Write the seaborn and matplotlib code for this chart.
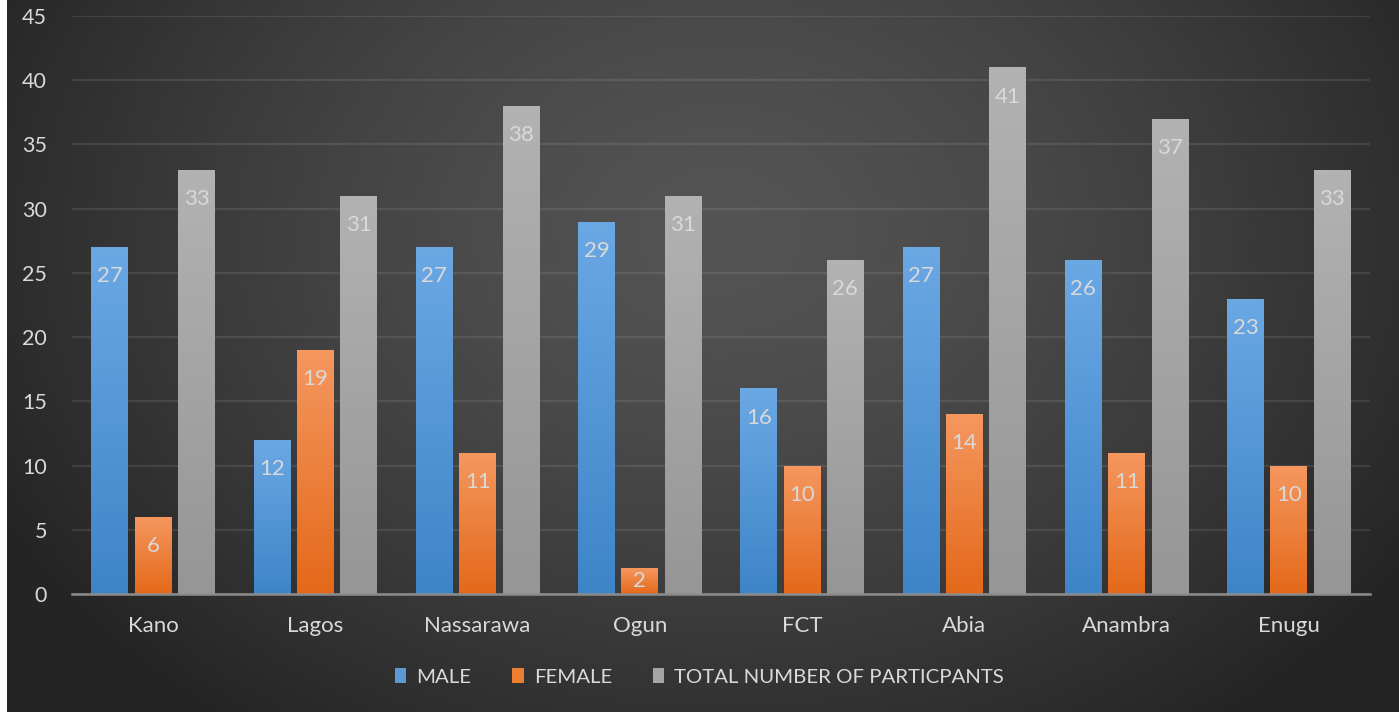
import numpy as np
import pandas as pd
import matplotlib
matplotlib.use("Agg")
import matplotlib.pyplot as plt
import seaborn as sns
from matplotlib.colors import LinearSegmentedColormap
from matplotlib.patches import Rectangle, Patch

# Participants per state
states = ["Kano", "Lagos", "Nassarawa", "Ogun", "FCT", "Abia", "Anambra", "Enugu"]
male = [27, 12, 27, 29, 16, 27, 26, 23]
female = [6, 19, 11, 2, 10, 14, 11, 10]
total = [33, 31, 38, 31, 26, 41, 37, 33]
series = ["MALE", "FEMALE", "TOTAL NUMBER OF PARTICPANTS"]
y_ticks = list(range(0, 50, 5))

df = pd.DataFrame({
    "State": states * 3,
    "Group": [series[0]] * len(states) + [series[1]] * len(states) + [series[2]] * len(states),
    "Count": male + female + total,
})

base_colors = ["#5b9bd5", "#ed7d31", "#a5a5a5"]
grad_colors = [("#6aa8e4", "#3e85c8"), ("#f5975f", "#e4691a"), ("#b2b2b2", "#969696")]
text_color = "#d9d9d9"

sns.set_theme(style="dark")
plt.rcParams["font.family"] = ["Lato", "DejaVu Sans"]

W, H = 1399, 712
fig = plt.figure(figsize=(W / 100, H / 100), dpi=100)

# Dark radial backdrop
bg = fig.add_axes([0, 0, 1, 1], zorder=-10)
yy, xx = np.mgrid[0:H, 0:W]
r = np.hypot((xx - 720) / 820.0, (yy - 230) / 620.0)
v = 84 - 48 * np.clip(r, 0, 1) ** 1.4
img = np.dstack([v, v, v]) / 255.0
bg.imshow(img, extent=[0, 1, 0, 1], aspect="auto", interpolation="bilinear")
bg.set_axis_off()
fig.patches.append(Rectangle((0, 0), 7 / W, 1, transform=fig.transFigure,
                             facecolor="white", edgecolor="none", zorder=-5))

ax = fig.add_axes([72 / W, 1 - 594 / H, (1370 - 72) / W, (594 - 16) / H])
ax.patch.set_alpha(0)

sns.barplot(data=df, x="State", y="Count", hue="Group", hue_order=series,
            palette=base_colors, width=0.8, gap=0.15, ax=ax, legend=False,
            errorbar=None, saturation=1, zorder=3, linewidth=0, edgecolor="none")

ax.set_ylim(0, 45)
ax.set_yticks(y_ticks)
ax.set_xlim(-0.5, len(states) - 0.5)
ax.grid(axis="y", color="white", alpha=0.09, linewidth=1.6, zorder=0)
ax.grid(axis="x", visible=False)
for s in ["top", "right", "left"]:
    ax.spines[s].set_visible(False)
ax.spines["bottom"].set_color("#8c8c8c")
ax.spines["bottom"].set_linewidth(1.8)
ax.spines["bottom"].set_zorder(5)
ax.tick_params(axis="y", colors=text_color, labelsize=15.5, length=0, pad=18)
ax.tick_params(axis="x", colors=text_color, labelsize=16, length=0, pad=16)
ax.set_xlabel("")
ax.set_ylabel("")

# Vertical shading inside each bar plus its value label
px_per_unit = (594 - 16) / 45.0
for ci, cont in enumerate(ax.containers):
    top_c, bot_c = grad_colors[ci]
    cmap = LinearSegmentedColormap.from_list(f"g{ci}", [bot_c, top_c])
    for bar, val in zip(cont.patches, cont.datavalues):
        x0, w, h = bar.get_x(), bar.get_width(), bar.get_height()
        grad = np.linspace(0, 1, 64).reshape(-1, 1)
        im = ax.imshow(grad, cmap=cmap, origin="lower", aspect="auto",
                       extent=[x0, x0 + w, 0, h], zorder=3.5, interpolation="bilinear")
        im.set_clip_path(bar)
        half_pt = h * px_per_unit / 2 * 0.72
        off = min(21.0, half_pt)
        ax.annotate(f"{val:g}", (x0 + w / 2, h), xytext=(0, -off),
                    textcoords="offset points", ha="center", va="center",
                    color=text_color, fontsize=16, zorder=6)
ax.set_xlim(-0.5, len(states) - 0.5)
ax.set_ylim(0, 45)

handles = [Patch(facecolor=c, edgecolor="none") for c in base_colors]
fig.legend(handles, series, loc="center", bbox_to_anchor=(0.5, 1 - 677 / H), ncol=3,
           frameon=False, fontsize=14.7, labelcolor=text_color, handlelength=0.55,
           handleheight=0.75, handletextpad=0.5, columnspacing=2.0)

fig.savefig("out.png", dpi=100)
